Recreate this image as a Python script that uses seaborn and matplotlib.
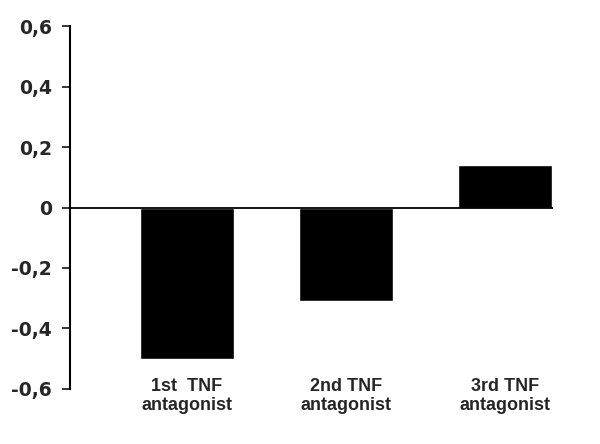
import matplotlib
matplotlib.use("Agg")
import matplotlib.pyplot as plt
import seaborn as sns
import pandas as pd

# Values
categories = ["1st  TNF\nantagonist", "2nd TNF\nantagonist", "3rd TNF\nantagonist"]
values = [-0.502, -0.308, 0.142]
y_ticks = [-0.6, -0.4, -0.2, 0, 0.2, 0.4, 0.6]
y_tick_labels = ["-0,6", "-0,4", "-0,2", "0", "0,2", "0,4", "0,6"]

sns.set_style("white")
plt.rcParams['font.family'] = ['Liberation Sans', 'DejaVu Sans']

df = pd.DataFrame({'group': categories, 'value': values})

fig = plt.figure(figsize=(6, 4.44), dpi=100)
ax = fig.add_axes([0.1167, 0.1239, 0.805, 0.8175])

sns.barplot(data=df, x='group', y='value', color='black', saturation=1,
            width=0.59, ax=ax)

ax.axhline(0, color='black', linewidth=1.3, zorder=3)
ax.set_xlim(-0.735, 2.30)
ax.set_ylim(-0.6, 0.6)

# y tick labels: heavy bold digits
ax.set_yticks(y_ticks)
ax.set_yticklabels(y_tick_labels, fontsize=13.5, fontweight='heavy',
                   family=['DejaVu Sans'])
ax.tick_params(axis='y', direction='out', length=6, width=1.3, pad=7, left=True)
ax.tick_params(axis='x', length=0, pad=-8)
for lab in ax.get_xticklabels():
    lab.set_fontsize(13)
    lab.set_fontweight('bold')
    lab.set_linespacing(1.15)

for s in ['top', 'right', 'bottom']:
    ax.spines[s].set_visible(False)
ax.spines['left'].set_linewidth(1.5)
ax.spines['left'].set_color('black')

ax.set_xlabel('')
ax.set_ylabel('')

plt.savefig('out.png', dpi=100)
